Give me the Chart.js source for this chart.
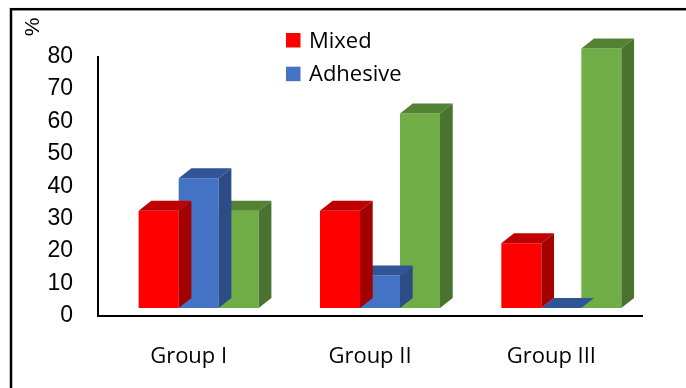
<!DOCTYPE html>
<html>
<head>
<meta charset="utf-8">
<script src="https://cdn.jsdelivr.net/npm/chart.js@4.4.1/dist/chart.umd.min.js"></script>
<style>
  html, body { margin: 0; padding: 0; background: #fff; }
  #wrap { width: 686px; height: 388px; position: relative; }
</style>
</head>
<body>
<div id="wrap"><canvas id="c"></canvas></div>
<script>
// Failure mode shares (%) per group
const groups = ['Group I', 'Group II', 'Group III'];
const mixed = [30, 30, 20];
const adhesive = [40, 10, 0];
const cohesive = [30, 60, 80];
const yTicks = [0, 10, 20, 30, 40, 50, 60, 70, 80];
const legendNames = ['Mixed', 'Adhesive'];
const unitLabel = '%';

// Front / top / side shades for each series box
const faces = [
  { front: '#FF0000', top: '#C00000', side: '#A30000' },
  { front: '#4472C4', top: '#2F5597', side: '#2B4C87' },
  { front: '#70AD47', top: '#548235', side: '#4A7330' }
];
const DEPTH_X = 12.7, DEPTH_Y = 10;   // box depth projection
const FLOOR_X = 10, FLOOR_Y = -8;     // boxes stand on a floor set back from the axis

const box3d = {
  id: 'box3d',
  beforeDatasetDraw(chart) {
    chart.ctx.save();
    chart.ctx.translate(FLOOR_X, FLOOR_Y);
  },
  afterDatasetDraw(chart, args) {
    const ctx = chart.ctx;
    const f = faces[args.index];
    args.meta.data.forEach(bar => {
      const { x, y, base, width } = bar.getProps(['x', 'y', 'base', 'width'], true);
      const l = x - width / 2, r = x + width / 2;
      ctx.fillStyle = f.top;
      ctx.beginPath();
      ctx.moveTo(l, y); ctx.lineTo(r, y);
      ctx.lineTo(r + DEPTH_X, y - DEPTH_Y); ctx.lineTo(l + DEPTH_X, y - DEPTH_Y);
      ctx.closePath(); ctx.fill();
      ctx.fillStyle = f.side;
      ctx.beginPath();
      ctx.moveTo(r, y); ctx.lineTo(r + DEPTH_X, y - DEPTH_Y);
      ctx.lineTo(r + DEPTH_X, base - DEPTH_Y); ctx.lineTo(r, base);
      ctx.closePath(); ctx.fill();
    });
    ctx.restore();
  }
};

const decor = {
  id: 'decor',
  beforeDraw(chart) {
    const ctx = chart.ctx;
    ctx.save();
    ctx.fillStyle = '#fff';
    ctx.fillRect(0, 0, chart.width, chart.height);
    ctx.strokeStyle = '#000';
    ctx.lineWidth = 2.5;
    ctx.strokeRect(11, 9.2, 720, 420);
    ctx.restore();
  },
  afterDraw(chart) {
    const ctx = chart.ctx;
    ctx.save();
    // unit label, turned on its side
    ctx.translate(33, 27);
    ctx.rotate(-Math.PI / 2);
    ctx.font = '21px "Liberation Sans", Arial, sans-serif';
    ctx.fillStyle = '#000';
    ctx.textAlign = 'center';
    ctx.textBaseline = 'middle';
    ctx.fillText(unitLabel, 0, 0);
    ctx.restore();

    // legend
    ctx.save();
    ctx.font = '22px "Open Sans", sans-serif';
    ctx.textBaseline = 'alphabetic';
    ctx.textAlign = 'left';
    legendNames.forEach((name, i) => {
      const ds = chart.data.datasets.find(d => d.label === name);
      const yy = 33 + i * 33.7;
      ctx.fillStyle = ds.backgroundColor;
      ctx.fillRect(286, yy, 14.5, 14.5);
      ctx.fillStyle = '#000';
      ctx.fillText(name, 309, yy + 14.5);
    });
    ctx.restore();
  }
};

new Chart(document.getElementById('c'), {
  type: 'bar',
  data: {
    labels: groups,
    datasets: [
      { label: 'Mixed', data: mixed, backgroundColor: faces[0].front },
      { label: 'Adhesive', data: adhesive, backgroundColor: faces[1].front },
      { label: 'Cohesive', data: cohesive, backgroundColor: faces[2].front }
    ]
  },
  options: {
    responsive: true,
    maintainAspectRatio: false,
    devicePixelRatio: 1,
    animation: false,
    layout: { padding: { top: 56.5, right: 44, left: 0, bottom: 0 } },
    datasets: { bar: { barPercentage: 1, categoryPercentage: 0.662, borderWidth: 0, clip: false } },
    plugins: { legend: { display: false }, tooltip: { enabled: false } },
    scales: {
      x: {
        grid: { display: false, drawTicks: false },
        border: { display: true, color: '#000', width: 2 },
        ticks: { padding: 28, color: '#000', font: { family: '"Open Sans", sans-serif', size: 22 } },
        afterFit(s) { s.height = 72; }
      },
      y: {
        min: 0,
        max: 80,
        grid: { display: false, drawTicks: false },
        border: { display: true, color: '#000', width: 2 },
        ticks: { padding: 25, color: '#000', font: { family: '"Liberation Sans", Arial, sans-serif', size: 23 } },
        afterBuildTicks(s) { s.ticks = yTicks.map(v => ({ value: v })); },
        afterFit(s) { s.width = 98; }
      }
    }
  },
  plugins: [decor, box3d]
});
</script>
</body>
</html>
